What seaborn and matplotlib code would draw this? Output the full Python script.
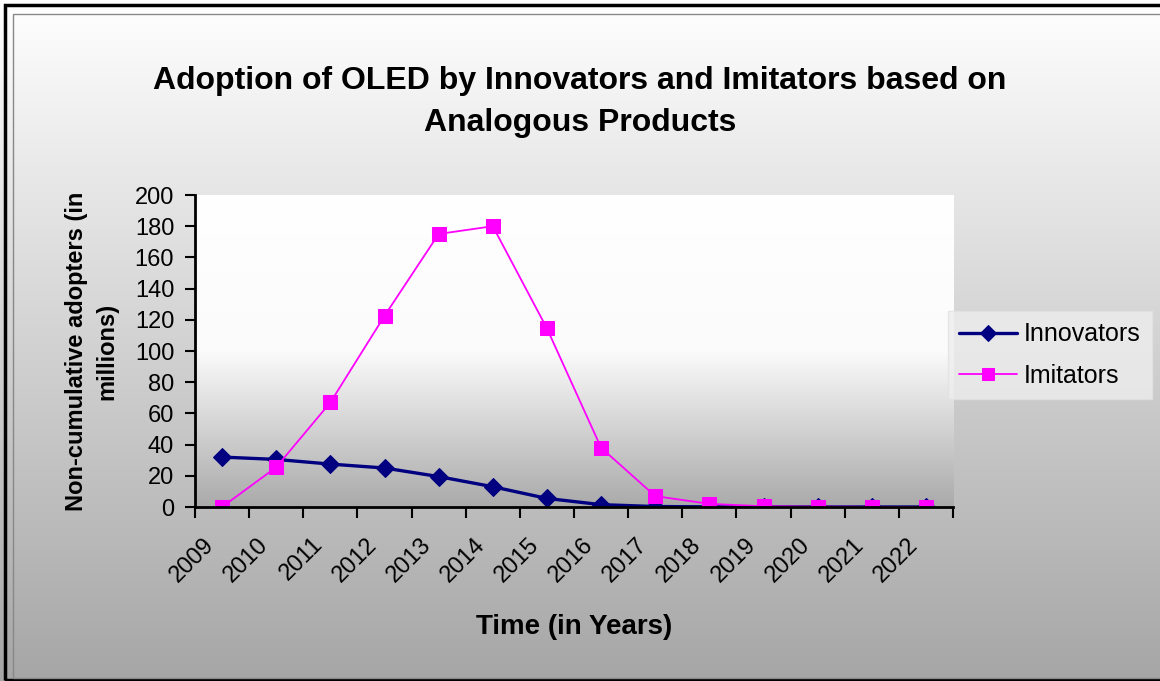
import matplotlib
matplotlib.use("Agg")
import matplotlib.pyplot as plt
import matplotlib.transforms as mtransforms
from matplotlib.colors import LinearSegmentedColormap
from matplotlib.patches import Rectangle
import numpy as np
import pandas as pd
import seaborn as sns

# Data
years = ['2009', '2010', '2011', '2012', '2013', '2014', '2015',
         '2016', '2017', '2018', '2019', '2020', '2021', '2022']
innovators = [32, 30.5, 27.5, 25, 19.5, 13, 5.5, 1.5, 0.3, 0.1, 0.05, 0.02, 0.01, 0.0]
imitators = [0, 25.5, 67, 122.5, 175, 180, 114.5, 38, 7, 2, 0.5, 0.2, 0.1, 0.0]

df = pd.DataFrame({'year': years, 'Innovators': innovators, 'Imitators': imitators})

sns.set_style('white')
plt.rcParams['font.family'] = ['Liberation Sans', 'DejaVu Sans']
plt.rcParams['text.color'] = 'black'
plt.rcParams['axes.labelcolor'] = 'black'
plt.rcParams['xtick.color'] = 'black'
plt.rcParams['ytick.color'] = 'black'

fig = plt.figure(figsize=(11.6, 6.81), dpi=100)

# figure background gradient (white top -> grey bottom)
bg = fig.add_axes([0, 0, 1, 1], zorder=-10)
grad = np.linspace(1.0, 0.0, 256).reshape(-1, 1)
bg.imshow(grad, cmap=LinearSegmentedColormap.from_list('g', ['#a6a6a6', '#ffffff']),
          aspect='auto', extent=[0, 1, 0, 1], vmin=0, vmax=1)
bg.set_xlim(0, 1)
bg.set_ylim(0, 1)
bg.axis('off')
# frame like the screenshot border
bg.add_patch(Rectangle((0.004, 0.002), 1.2, 0.99, fill=False, edgecolor='black', lw=2.5))
bg.add_patch(Rectangle((0.011, 0.004), 1.2, 0.976, fill=False, edgecolor='#888888', lw=1))

pos = [195 / 1160, 1 - 507 / 681, (953 - 195) / 1160, (507 - 195) / 681]

# plot area gradient
pa = fig.add_axes(pos, zorder=-5)
pgrad = np.linspace(0.0, 1.0, 256).reshape(-1, 1)
pa.imshow(pgrad, cmap=LinearSegmentedColormap.from_list('p', ['#ffffff', '#fbfbfb', '#aaaaaa']),
          aspect='auto', extent=[0, 1, 0, 1], vmin=0, vmax=1)
pa.axis('off')

ax = fig.add_axes(pos)
ax.patch.set_alpha(0)

sns.lineplot(data=df, x='year', y='Innovators', ax=ax, color='#000080', lw=2.4,
             marker='D', markersize=9, markeredgecolor='#000080', label='Innovators', sort=False)
sns.lineplot(data=df, x='year', y='Imitators', ax=ax, color='#ff00ff', lw=1.3,
             marker='s', markersize=10, markeredgecolor='#ff00ff', label='Imitators', sort=False)

ax.set_xlim(-0.5, len(years) - 0.5)
ax.set_ylim(0, 200)
ax.set_yticks(range(0, 201, 20))
ax.tick_params(axis='y', labelsize=17, length=7, width=1.5, direction='out', left=True, pad=8)
ax.set_xticks(range(len(years)))
ax.set_xticklabels(years, rotation=45, ha='right', va='top', rotation_mode='anchor', fontsize=17)
ax.set_xticks(np.arange(-0.5, len(years), 1), minor=True)
ax.tick_params(axis='x', which='major', length=0, pad=19)
ax.tick_params(axis='x', which='minor', length=8, width=1.5, direction='out', bottom=True)
shift = mtransforms.ScaledTranslation(-19 / 100, 0, fig.dpi_scale_trans)
for lab in ax.get_xticklabels():
    lab.set_transform(lab.get_transform() + shift)

for s in ['top', 'right']:
    ax.spines[s].set_visible(False)
for s in ['left', 'bottom']:
    ax.spines[s].set_color('black')
    ax.spines[s].set_linewidth(2)

ax.set_xlabel('Time (in Years)', fontsize=20, fontweight='bold', labelpad=20)
ax.set_ylabel('Non-cumulative adopters (in\nmillions)', fontsize=17, fontweight='bold',
              labelpad=12, linespacing=1.4)

fig.suptitle('Adoption of OLED by Innovators and Imitators based on\nAnalogous Products',
             fontsize=23, fontweight='bold', y=0.903, linespacing=1.5, x=580 / 1160)

leg = ax.legend(loc='center left', bbox_to_anchor=(948 / 1160, 1 - 355 / 681), bbox_transform=fig.transFigure,
                fontsize=18, frameon=True, fancybox=False, handlelength=2.3, handletextpad=0.3,
                borderpad=0.45, labelspacing=0.7, borderaxespad=0)
leg.get_frame().set_facecolor('#eeeeee')
leg.get_frame().set_edgecolor('#e2e2e2')
for h in leg.legend_handles:
    h.set_markersize(8)

fig.savefig('out.png', dpi=100)
